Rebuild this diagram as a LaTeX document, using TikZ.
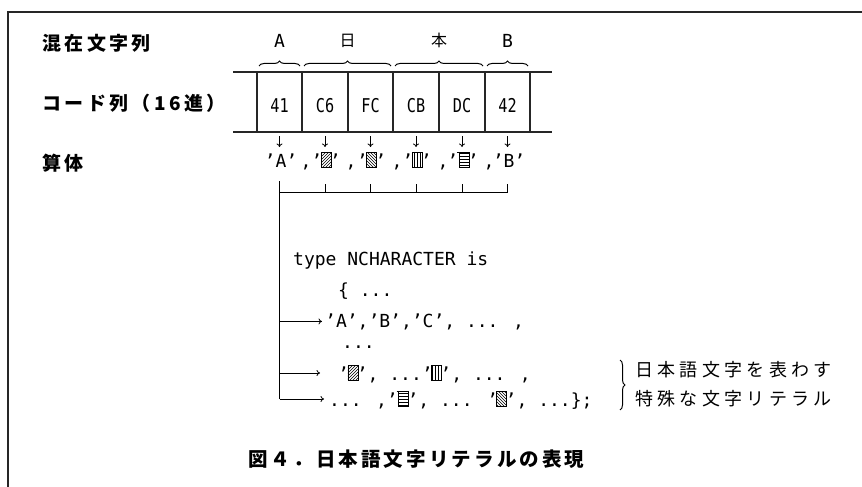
\documentclass[tikz,border=0pt]{standalone}
\usepackage{fontspec}
\usetikzlibrary{arrows.meta,decorations.pathreplacing,patterns}
\newfontfamily\jpL[LetterSpace=18]{Noto Sans CJK JP}
\newfontfamily\jpC[LetterSpace=16]{Noto Sans CJK JP}
\newfontfamily\jpR[LetterSpace=24]{Noto Sans CJK JP}
\newfontfamily\jpS{Noto Sans CJK JP}
\newfontfamily\mono{DejaVu Sans Mono}
\newfontfamily\cellf[FakeStretch=0.8]{DejaVu Sans Mono}
\newcommand\gA{\kern-1.5pt\tikz[baseline=0pt]\draw[line width=0.8pt,pattern=north east lines] (0pt,0pt) rectangle (10pt,15pt);\kern-1.5pt}
\newcommand\gB{\kern-1.5pt\tikz[baseline=0pt]\draw[line width=0.8pt,pattern=north west lines] (0pt,0pt) rectangle (10pt,15pt);\kern-1.5pt}
\newcommand\gC{\kern-1.5pt\tikz[baseline=0pt]\draw[line width=0.8pt,pattern=vertical lines] (0pt,0pt) rectangle (10pt,15pt);\kern-1.5pt}
\newcommand\gD{\kern-1.5pt\tikz[baseline=0pt]{\draw[line width=0.8pt,pattern=horizontal lines] (0pt,0pt) rectangle (10pt,15pt);\draw[line width=0.8pt] (-2pt,15pt) -- (0pt,15pt);}\kern-1.5pt}
\begin{document}
\begin{tikzpicture}[x=1pt,y=-1pt,
  jlab/.style={font=\jpL\bfseries\fontsize{19}{22}\selectfont, anchor=base west, inner sep=0pt},
  rlab/.style={font=\jpR\fontsize{18}{22}\selectfont, anchor=base west, inner sep=0pt},
  capt/.style={font=\jpC\bfseries\fontsize{19.5}{22}\selectfont, anchor=base west, inner sep=0pt},
  grp/.style={font=\jpS\fontsize{16}{18}\selectfont, anchor=base, inner sep=0pt},
  grpl/.style={font=\mono\fontsize{18}{20}\selectfont, anchor=base, inner sep=0pt},
  codel/.style={font=\mono\fontsize{18}{20}\selectfont, anchor=base west, inner sep=0pt},
  lit/.style={font=\mono\fontsize{18}{20}\selectfont, anchor=base, inner sep=0pt},
  cell/.style={font=\cellf\fontsize{19}{22}\selectfont, anchor=base, inner sep=0pt},
  framel/.style={line width=1.4pt, black!85},
  tape/.style={line width=2.4pt, black!85},
  thinl/.style={line width=0.9pt},
  arr/.style={-{To[length=3.5pt,width=6pt]}, line width=0.8pt},
  brc/.style={decorate, decoration={brace, amplitude=5pt}, line width=1pt}]
\useasboundingbox (0,0) rectangle (862,487);
% frame
\draw[framel] (8,487) -- (8,12) -- (862,12);
% left labels
\node[jlab] (mix) at (42,50.5) {混在文字列};
\node[jlab] (codes) at (42,110.5) {コード列（16進）};
\node[jlab] (body) at (42,170.5) {算体};
% tape
\draw[tape] (233,72) -- (552,72);
\draw[tape] (233,132) -- (552,132);
\foreach \x in {257,302,348,393,439,485,530} \draw[tape] (\x,72) -- (\x,132);
\node[cell] (k1) at (279.5,112) {41};
\node[cell] (k2) at (325,112) {C6};
\node[cell] (k3) at (370.5,112) {FC};
\node[cell] (k4) at (416,112) {CB};
\node[cell] (k5) at (462,112) {DC};
\node[cell] (k6) at (507.5,112) {42};
% group braces and labels
\draw[brc] (259,66) -- (300,66);
\draw[brc] (304,66) -- (391,66);
\draw[brc] (395,66) -- (483,66);
\draw[brc] (487,66) -- (528,66);
\node[grpl] (gA) at (279.5,48) {A};
\node[grp] (gN) at (347.5,47) {日};
\node[grp] (gH) at (439,47) {本};
\node[grpl] (gB) at (507.5,48) {B};
% literal row
\node[lit] (l1) at (281,167) {’A’};
\node[lit] (l2) at (326,167) {’\gA’};
\node[lit] (l3) at (371.5,167) {’\gB’};
\node[lit] (l4) at (417,167) {’\gC’};
\node[lit] (l5) at (463,167) {’\gD’};
\node[lit] (l6) at (509,167) {’B’};
\foreach \x in {306,351,397,443,489} \node[lit] at (\x,167) {,};
% down arrows
\foreach \k/\l in {k1/l1,k2/l2,k3/l3,k4/l4,k5/l5,k6/l6}
  \draw[arr] (\k.center |- 0,136) -- (\k.center |- 0,147);
% bracket under literals
\coordinate (vtop) at (279.5,181);
\coordinate (vbot) at (279.5,399);
\draw[thinl] (279.5,192) -- (507.5,192);
\foreach \k in {k2,k3,k4,k5,k6} \draw[thinl] (\k.center |- 0,184) -- (\k.center |- 0,192);
\draw[thinl] (vtop) -- (vbot);
% code lines
\node[codel] (t1) at (293,265) {type NCHARACTER is};
\node[codel] (t2) at (338,296) {\{ ...};
\node[codel] (t3) at (325,327) {’A’,’B’,’C’, ... ,};
\node[codel] (t4) at (342,348) {...};
\node[codel] (t5) at (338,380) {’\gA’, ...’\gC’, ... ,};
\node[codel] (t6) at (329,406) {... ,’\gD’, ... ’\gB’, ...\};};
\draw[arr] (vtop |- t3.west) -- ([xshift=-3pt]t3.west);
\draw[arr] (vtop |- 0,373) -- (320,373);
\draw[arr] (vbot) -- ([xshift=-5pt]vbot -| t6.west);
% right brace and labels
\draw[brc] (620,360) -- (620,410);
\node[rlab] (r1) at (635,376.5) {日本語文字を表わす};
\node[rlab] (r2) at (635,405.5) {特殊な文字リテラル};
% caption
\node[capt] (cp) at (248,466.5) {図４．日本語文字リテラルの表現};
\end{tikzpicture}
\end{document}
